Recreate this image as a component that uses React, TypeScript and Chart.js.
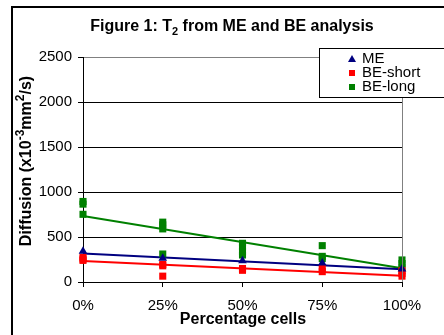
import React, { useEffect, useRef } from "react";
import { Chart, registerables } from "chart.js";
Chart.register(...registerables);

const categories = [0, 25, 50, 75, 100];
const xTickLabels = ["0%", "25%", "50%", "75%", "100%"];
const yTicks = [0, 500, 1000, 1500, 2000, 2500];

const meX = [0, 25, 50, 75, 100];
const meY = [342, 265, 235, 210, 145];

const shortX = [0, 0, 0, 25, 25, 25, 50, 50, 75, 75, 100, 100, 100];
const shortY = [275, 255, 240, 195, 180, 65, 150, 130, 150, 115, 125, 95, 65];

const longX = [0, 0, 0, 25, 25, 25, 25, 50, 50, 50, 50, 75, 75, 75, 100, 100, 100];
const longY = [895, 865, 752, 665, 635, 590, 311, 430, 390, 340, 300, 404, 285, 260, 245, 205, 165];

const trendX = [0, 100];
const meTrend = [318, 141];
const shortTrend = [233, 70];
const longTrend = [733, 152];

const seriesLabels = ["ME", "BE-short", "BE-long"];
const colors = ["#000080", "#FF0000", "#008000"];

const FONT = "'Liberation Sans', Arial, sans-serif";

type Seg = { t: string; k?: "sup" | "sub" };

function drawRich(ctx: CanvasRenderingContext2D, segs: Seg[], size: number, bold: boolean, scale = 0.68) {
  const w = bold ? "bold " : "";
  const small = Math.round(size * scale);
  let total = 0;
  const widths = segs.map((s) => {
    ctx.font = `${w}${s.k ? small : size}px ${FONT}`;
    const m = ctx.measureText(s.t).width;
    total += m;
    return m;
  });
  let x = -total / 2;
  segs.forEach((s, i) => {
    ctx.font = `${w}${s.k ? small : size}px ${FONT}`;
    const dy = s.k === "sub" ? size * 0.3 : s.k === "sup" ? -size * 0.38 : 0;
    ctx.fillText(s.t, x, dy);
    x += widths[i];
  });
}

const decor = {
  id: "decor",
  beforeDraw(chart: any) {
    const ctx = chart.ctx;
    ctx.save();
    ctx.fillStyle = "#fff";
    ctx.fillRect(0, 0, chart.width, chart.height);
    ctx.strokeStyle = "#000";
    ctx.lineWidth = 2;
    ctx.beginPath();
    ctx.moveTo(12, 400);
    ctx.lineTo(12, 7);
    ctx.lineTo(460, 7);
    ctx.stroke();
    ctx.restore();
  },
  afterDraw(chart: any) {
    const ctx = chart.ctx;
    const a = chart.chartArea;
    ctx.save();
    ctx.strokeStyle = "#808080";
    ctx.lineWidth = 1;
    ctx.beginPath();
    ctx.moveTo(Math.round(a.right) + 0.5, a.top);
    ctx.lineTo(Math.round(a.right) + 0.5, a.bottom);
    ctx.stroke();

    ctx.fillStyle = "#000";
    ctx.textBaseline = "middle";
    ctx.save();
    ctx.translate(232, 27);
    drawRich(ctx, [{ t: "Figure 1: T" }, { t: "2", k: "sub" }, { t: " from ME and BE analysis" }], 16, true);
    ctx.restore();
    ctx.save();
    ctx.translate(27, 161);
    ctx.rotate(-Math.PI / 2);
    drawRich(ctx, [{ t: "Diffusion (x10" }, { t: "-3", k: "sup" }, { t: "mm" }, { t: "2", k: "sup" }, { t: "/s)" }], 16, true, 0.78);
    ctx.restore();
    ctx.save();
    ctx.translate(243, 320);
    drawRich(ctx, [{ t: "Percentage cells" }], 16, true);
    ctx.restore();

    ctx.fillStyle = "#fff";
    ctx.fillRect(319, 48, 140, 49);
    ctx.strokeStyle = "#000";
    ctx.lineWidth = 1;
    ctx.strokeRect(319.5, 48.5, 140, 49);
    const rows = [59, 73, 87];
    rows.forEach((y, i) => {
      ctx.fillStyle = colors[i];
      if (i === 0) {
        ctx.beginPath();
        ctx.moveTo(352, y - 4);
        ctx.lineTo(356, y + 3);
        ctx.lineTo(348, y + 3);
        ctx.closePath();
        ctx.fill();
      } else {
        ctx.fillRect(349, y - 3, 6, 6);
      }
      ctx.fillStyle = "#000";
      ctx.font = `15px ${FONT}`;
      ctx.textAlign = "left";
      ctx.fillText(chart.data.datasets[i].label, 362, y);
    });
    ctx.restore();
  },
};

function pts(xs: number[], ys: number[]) {
  return xs.map((x, i) => ({ x, y: ys[i] }));
}

export default function App() {
  const ref = useRef<HTMLCanvasElement>(null);
  useEffect(() => {
    const chart = new Chart(ref.current!, {
      type: "scatter",
      data: {
        datasets: [
          { label: seriesLabels[0], data: pts(meX, meY), pointStyle: "triangle", pointRadius: 5, backgroundColor: colors[0], borderColor: colors[0], borderWidth: 0, clip: false } as any,
          { label: seriesLabels[1], data: pts(shortX, shortY), pointStyle: "rect", pointRadius: 5, backgroundColor: colors[1], borderColor: colors[1], borderWidth: 0, clip: false },
          { label: seriesLabels[2], data: pts(longX, longY), pointStyle: "rect", pointRadius: 5, backgroundColor: colors[2], borderColor: colors[2], borderWidth: 0, clip: false },
          { label: "ME trend", type: "line", data: pts(trendX, meTrend), borderColor: colors[0], borderWidth: 2, pointRadius: 0, showLine: true, clip: false },
          { label: "BE-short trend", type: "line", data: pts(trendX, shortTrend), borderColor: colors[1], borderWidth: 2, pointRadius: 0, showLine: true, clip: false },
          { label: "BE-long trend", type: "line", data: pts(trendX, longTrend), borderColor: colors[2], borderWidth: 2, pointRadius: 0, showLine: true, clip: false },
        ] as any,
      },
      options: {
        animation: false,
        responsive: false,
        events: [],
        layout: { padding: { top: 57, right: 42, bottom: 0, left: 0 } },
        plugins: { legend: { display: false }, tooltip: { enabled: false }, title: { display: false } },
        scales: {
          x: {
            type: "linear",
            min: 0,
            max: 100,
            afterBuildTicks: (s: any) => { s.ticks = categories.map((v) => ({ value: v })); },
            afterFit: (s: any) => { s.height = 53; },
            ticks: {
              callback: (v: any) => xTickLabels[categories.indexOf(Number(v))] ?? "",
              font: { family: FONT, size: 15 },
              color: "#000",
              padding: 10,
              maxRotation: 0,
            },
            grid: { drawOnChartArea: false, drawTicks: true, tickLength: 5, tickColor: "#000" },
            border: { display: true, color: "#000", width: 1 },
          },
          y: {
            type: "linear",
            min: 0,
            max: 2500,
            afterBuildTicks: (s: any) => { s.ticks = yTicks.map((v) => ({ value: v })); },
            afterFit: (s: any) => { s.width = 83; },
            ticks: {
              callback: (v: any) => String(v),
              font: { family: FONT, size: 15 },
              color: "#000",
              padding: 6,
            },
            grid: {
              color: (c: any) => (c.tick && c.tick.value === 2500 ? "#808080" : "#000"),
              tickLength: 5,
              tickColor: "#000",
            },
            border: { display: true, color: "#000", width: 1 },
          },
        },
      },
      plugins: [decor],
    });
    return () => chart.destroy();
  }, []);
  return (
    <div style={{ position: "fixed", left: 0, top: 0, width: 444, height: 335 }}>
      <canvas ref={ref} width={444} height={335} style={{ width: 444, height: 335 }} />
    </div>
  );
}
